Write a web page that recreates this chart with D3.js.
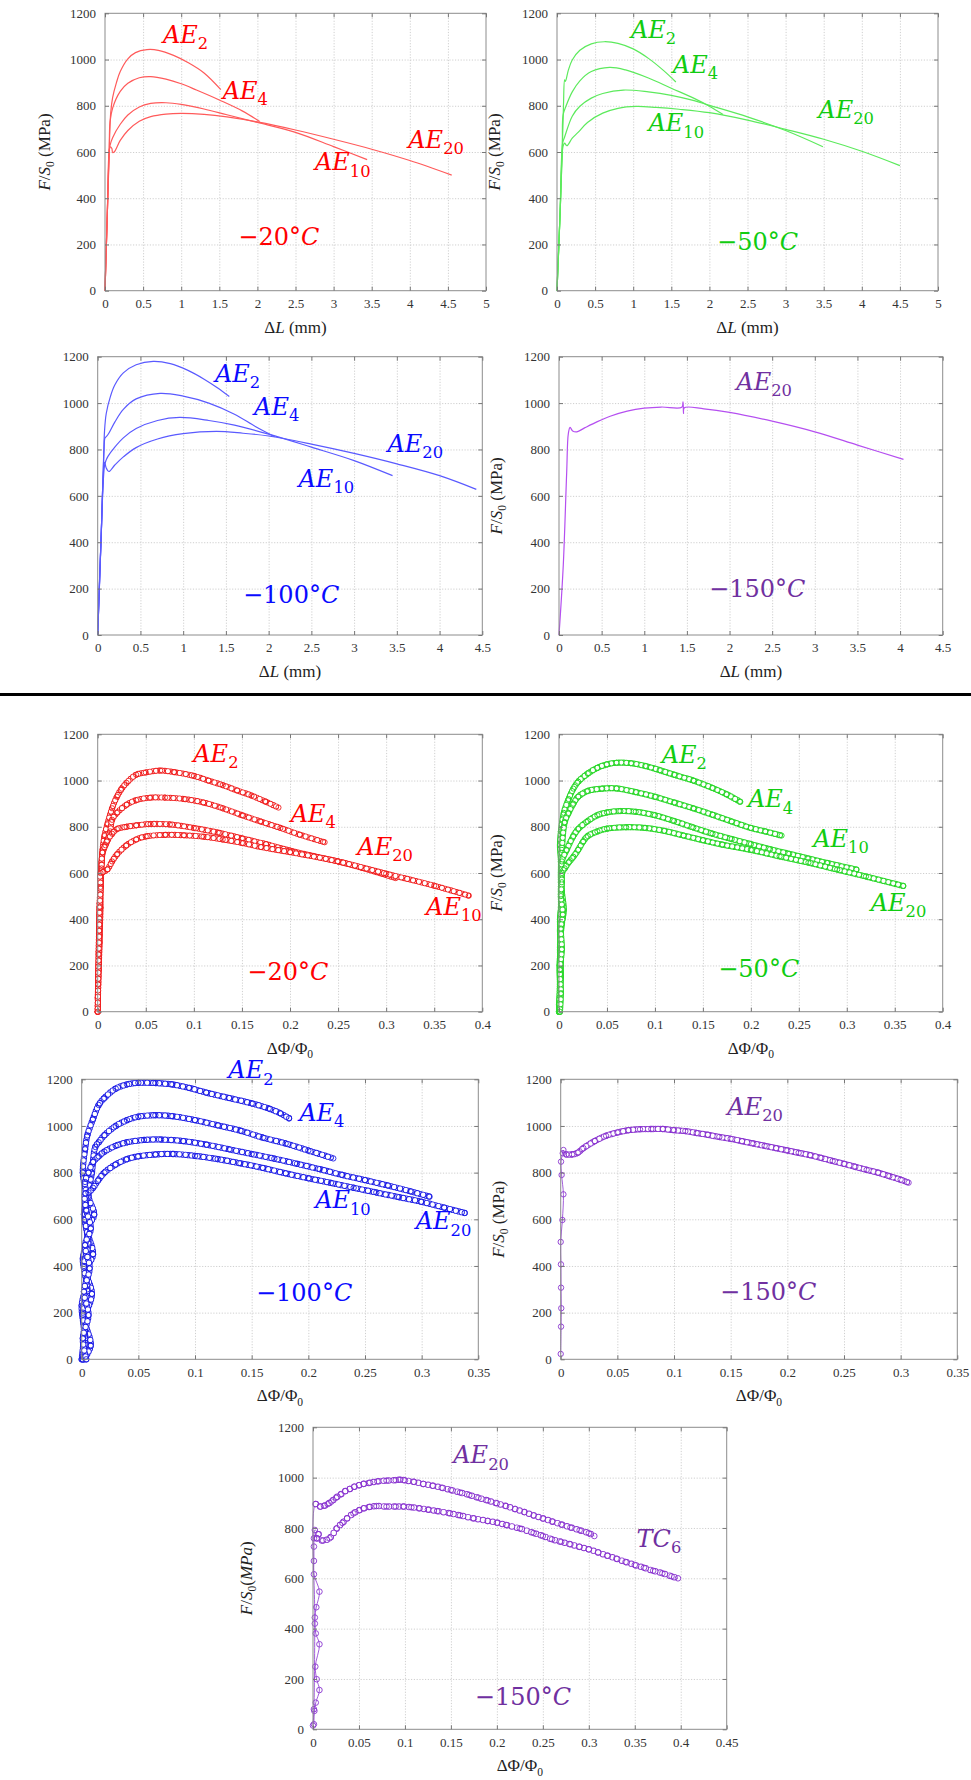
<!DOCTYPE html>
<html><head><meta charset="utf-8">
<script src="https://cdn.jsdelivr.net/npm/d3@7"></script>
<style>body{margin:0;background:#fff}svg{display:block}</style>
</head><body>
<svg id="c" width="971" height="1780"></svg>
<script>
// ---------- tick values ----------
const yTicks = [0,200,400,600,800,1000,1200];
const xTicksL5 = [0,0.5,1,1.5,2,2.5,3,3.5,4,4.5,5];
const xTicksL45 = [0,0.5,1,1.5,2,2.5,3,3.5,4,4.5];
const xTicksP40 = [0,0.05,0.1,0.15,0.2,0.25,0.3,0.35,0.4];
const xTicksP35 = [0,0.05,0.1,0.15,0.2,0.25,0.3,0.35];
const xTicksP45 = [0,0.05,0.1,0.15,0.2,0.25,0.3,0.35,0.4,0.45];

// ---------- -20°C, ΔL ----------
const m20L_AE2 = [[0,0],[0.03,330],[0.05,560],[0.062,680],[0.075,770],[0.1,835],[0.15,900],[0.2,948],[0.3,1003],[0.4,1030],[0.55,1043],[0.7,1040],[0.9,1018],[1.1,985],[1.3,942],[1.52,870]];
const m20L_AE4 = [[0,0],[0.03,330],[0.055,590],[0.066,730],[0.1,790],[0.2,862],[0.3,897],[0.45,921],[0.6,926],[0.8,915],[1.0,895],[1.2,868],[1.5,825],[1.8,778],[2.03,732]];
const m20L_AE10 = [[0,0],[0.03,330],[0.057,610],[0.065,628],[0.1,662],[0.2,720],[0.3,760],[0.45,795],[0.6,810],[0.8,813],[1.0,806],[1.3,786],[1.6,761],[2.0,728],[2.5,685],[3.0,623],[3.44,567]];
const m20L_AE20 = [[0,0],[0.03,330],[0.057,610],[0.07,622],[0.09,615],[0.1,598],[0.12,600],[0.2,650],[0.3,693],[0.45,733],[0.6,753],[0.8,764],[1.0,767],[1.3,763],[1.6,752],[2.0,730],[2.5,695],[3.0,655],[3.5,612],[4.0,563],[4.55,500]];

// ---------- -50°C, ΔL ----------
const m50L_AE2 = [[0,0],[0.04,330],[0.07,620],[0.085,800],[0.1,912],[0.11,905],[0.15,955],[0.2,998],[0.3,1040],[0.45,1068],[0.62,1077],[0.8,1070],[1.0,1046],[1.2,1005],[1.4,952],[1.56,903]];
const m50L_AE4 = [[0,0],[0.04,330],[0.07,620],[0.08,760],[0.12,800],[0.2,860],[0.3,908],[0.45,948],[0.69,966],[0.9,955],[1.2,920],[1.5,876],[1.8,832],[2.0,798],[2.18,762]];
const m50L_AE10 = [[0,0],[0.04,330],[0.075,640],[0.1,665],[0.2,755],[0.3,798],[0.45,833],[0.6,853],[0.87,868],[1.2,860],[1.5,845],[1.8,822],[2.0,802],[2.5,752],[3.0,693],[3.49,623]];
const m50L_AE20 = [[0,0],[0.04,330],[0.08,625],[0.1,638],[0.13,627],[0.2,660],[0.28,686],[0.4,728],[0.6,768],[0.8,789],[1.04,797],[1.3,793],[1.6,785],[2.0,770],[2.5,738],[3.0,698],[3.5,655],[4.0,603],[4.5,541]];

// ---------- -100°C, ΔL ----------
const m100L_AE2 = [[0,0],[0.04,420],[0.066,726],[0.08,880],[0.1,955],[0.15,1030],[0.2,1078],[0.3,1130],[0.45,1165],[0.65,1180],[0.85,1170],[1.05,1142],[1.25,1102],[1.4,1066],[1.54,1028]];
const m100L_AE4 = [[0,0],[0.04,420],[0.075,800],[0.085,850],[0.1,855],[0.13,870],[0.2,918],[0.3,973],[0.45,1018],[0.73,1042],[1.0,1030],[1.3,1000],[1.6,952],[1.85,898],[2.07,855]];
const m100L_AE10 = [[0,0],[0.04,420],[0.08,730],[0.1,755],[0.12,770],[0.2,810],[0.3,850],[0.45,890],[0.7,925],[0.96,938],[1.3,925],[1.6,905],[2.0,866],[2.5,810],[3.0,752],[3.45,687]];
const m100L_AE20 = [[0,0],[0.04,420],[0.08,745],[0.1,720],[0.13,705],[0.2,733],[0.3,768],[0.45,808],[0.7,845],[1.0,868],[1.39,878],[1.7,870],[2.0,858],[2.5,823],[3.0,783],[3.5,738],[4.0,687],[4.43,628]];

// ---------- -150°C, ΔL ----------
const m150L_AE20 = [[0,0],[0.05,300],[0.09,700],[0.11,870],[0.13,895],[0.16,880],[0.21,876],[0.3,893],[0.45,920],[0.6,943],[0.8,965],[1.0,978],[1.2,983],[1.44,982],[1.455,1005],[1.46,955],[1.47,980],[1.7,975],[2.0,960],[2.5,922],[3.0,876],[3.5,819],[4.04,757]];

// ---------- -20°C, ΔΦ/Φ0 ----------
const m20P_AE2 = [[0,0],[0.0005,150],[0.001,260],[0.0015,380],[0.002,470],[0.003,560],[0.004,640],[0.005,700],[0.007,760],[0.01,810],[0.015,880],[0.02,930],[0.025,965],[0.03,990],[0.04,1025],[0.05,1035],[0.065,1043],[0.08,1036],[0.1,1020],[0.115,1000],[0.13,980],[0.145,957],[0.16,935],[0.175,908],[0.188,883]];
const m20P_AE4 = [[0,60],[0.001,200],[0.002,330],[0.003,450],[0.003,560],[0.004,650],[0.006,700],[0.01,740],[0.013,780],[0.015,830],[0.02,860],[0.03,895],[0.04,915],[0.055,926],[0.07,926],[0.09,920],[0.11,905],[0.13,880],[0.15,850],[0.17,822],[0.19,795],[0.21,766],[0.236,733]];
const m20P_AE10 = [[0,0],[0.001,180],[0.002,300],[0.002,420],[0.003,540],[0.004,620],[0.005,690],[0.008,720],[0.01,740],[0.015,770],[0.02,790],[0.03,800],[0.04,806],[0.055,812],[0.075,810],[0.1,795],[0.125,775],[0.15,750],[0.175,725],[0.2,697],[0.225,673],[0.25,650],[0.275,622],[0.31,578]];
const m20P_AE20 = [[0,0],[0.0005,120],[0.001,250],[0.0015,350],[0.002,450],[0.003,540],[0.003,600],[0.006,605],[0.01,615],[0.015,650],[0.02,680],[0.03,720],[0.04,745],[0.05,758],[0.07,765],[0.09,763],[0.11,757],[0.13,745],[0.15,730],[0.17,712],[0.2,690],[0.25,650],[0.3,597],[0.35,545],[0.386,502]];

// ---------- -50°C, ΔΦ/Φ0 ----------
const m50P_AE2 = [[0,0],[0.001,100],[0.0005,200],[0.002,300],[0.001,400],[0.003,480],[0.002,560],[0.002,650],[0.001,720],[0.002,780],[0.005,860],[0.01,920],[0.015,965],[0.02,995],[0.03,1030],[0.04,1055],[0.05,1070],[0.06,1077],[0.075,1075],[0.09,1063],[0.105,1045],[0.12,1025],[0.14,1000],[0.16,968],[0.175,940],[0.189,908]];
const m50P_AE4 = [[0,30],[0.002,150],[0.001,280],[0.003,380],[0.005,440],[0.003,520],[0.002,600],[0.003,700],[0.006,820],[0.01,860],[0.015,900],[0.02,930],[0.03,955],[0.045,965],[0.06,966],[0.08,950],[0.1,930],[0.12,905],[0.14,880],[0.16,852],[0.18,823],[0.2,795],[0.215,780],[0.232,762]];
const m50P_AE10 = [[0,0],[0.001,120],[0.002,250],[0.001,350],[0.002,450],[0.002,540],[0.003,600],[0.003,650],[0.008,700],[0.015,760],[0.02,790],[0.03,825],[0.04,850],[0.05,862],[0.064,868],[0.08,865],[0.1,850],[0.12,825],[0.14,797],[0.16,770],[0.18,747],[0.2,725],[0.22,703],[0.24,683],[0.26,663],[0.28,643],[0.31,615]];
const m50P_AE20 = [[0.001,0],[0.002,80],[0.001,180],[0.003,270],[0.002,360],[0.004,420],[0.002,500],[0.003,560],[0.003,600],[0.006,620],[0.01,645],[0.015,670],[0.02,700],[0.025,735],[0.03,760],[0.04,780],[0.05,792],[0.07,798],[0.09,795],[0.11,782],[0.13,762],[0.15,742],[0.17,723],[0.2,700],[0.23,672],[0.26,645],[0.29,615],[0.32,585],[0.359,544]];

// ---------- -100°C, ΔΦ/Φ0 ----------
const m100P_AE2 = [[0,0],[0.002,120],[0,230],[0.004,330],[0.001,430],[0.005,520],[0.002,620],[0.004,700],[0.001,800],[0.003,900],[0.005,960],[0.01,1030],[0.015,1090],[0.02,1120],[0.03,1160],[0.04,1178],[0.05,1185],[0.065,1184],[0.08,1178],[0.095,1163],[0.11,1143],[0.13,1120],[0.15,1097],[0.165,1075],[0.175,1055],[0.183,1033]];
const m100P_AE4 = [[0.002,0],[0.008,60],[0.003,170],[0.009,280],[0.004,380],[0.01,450],[0.005,560],[0.011,620],[0.006,700],[0.009,800],[0.012,910],[0.015,930],[0.02,960],[0.03,1000],[0.04,1025],[0.05,1040],[0.065,1046],[0.08,1042],[0.1,1025],[0.12,1003],[0.14,980],[0.16,950],[0.18,925],[0.2,895],[0.222,861]];
const m100P_AE10 = [[0.001,0],[0.003,100],[0.001,200],[0.005,300],[0.002,400],[0.006,500],[0.003,600],[0.004,700],[0.003,760],[0.006,800],[0.01,845],[0.015,870],[0.02,890],[0.03,915],[0.04,930],[0.055,940],[0.07,942],[0.09,935],[0.11,920],[0.13,900],[0.15,880],[0.17,860],[0.19,838],[0.21,815],[0.23,790],[0.25,768],[0.27,745],[0.29,720],[0.307,697]];
const m100P_AE20 = [[0.004,0],[0.001,90],[0.006,190],[0.002,290],[0.007,390],[0.003,490],[0.008,560],[0.004,640],[0.003,710],[0.006,715],[0.01,735],[0.015,770],[0.02,800],[0.03,835],[0.04,858],[0.05,870],[0.065,878],[0.08,880],[0.1,872],[0.12,858],[0.14,840],[0.16,820],[0.18,797],[0.2,776],[0.22,756],[0.24,735],[0.26,715],[0.28,695],[0.3,675],[0.32,650],[0.338,627]];

// ---------- -150°C, ΔΦ/Φ0 ----------
const m150P_AE20 = [[0,23],[0.0003,140],[0.0005,219],[0.0003,307],[0.0002,407],[0,503],[0.0015,597],[0.0024,707],[0.0008,790],[0.0003,847],[0.0024,897],[0.0018,883],[0.005,878],[0.01,878],[0.015,885],[0.02,905],[0.03,935],[0.04,958],[0.05,972],[0.06,982],[0.07,986],[0.08,987],[0.09,987],[0.1,982],[0.11,978],[0.12,970],[0.13,962],[0.14,953],[0.15,945],[0.16,935],[0.17,925],[0.18,915],[0.19,905],[0.2,895],[0.21,885],[0.22,875],[0.23,863],[0.24,850],[0.25,838],[0.26,825],[0.27,812],[0.28,800],[0.29,785],[0.3,770],[0.307,757]];

// ---------- -150°C, ΔΦ/Φ0 (AE20 vs TC6) ----------
const c150_AE20 = [[0,15],[0.001,80],[0.002,420],[0.003,895],[0.008,885],[0.012,888],[0.016,895],[0.02,905],[0.025,920],[0.03,933],[0.035,946],[0.04,955],[0.045,964],[0.05,970],[0.055,975],[0.062,980],[0.07,985],[0.08,988],[0.09,990],[0.095,992],[0.1,989],[0.11,983],[0.12,975],[0.13,968],[0.14,960],[0.15,951],[0.16,941],[0.17,931],[0.18,920],[0.19,909],[0.2,898],[0.21,887],[0.22,875],[0.23,863],[0.24,850],[0.25,838],[0.26,826],[0.27,814],[0.28,802],[0.29,791],[0.3,779],[0.306,768]];
const c150_TC6 = [[0.001,20],[0.0015,73],[0.003,106],[0.007,156],[0.004,199],[0.0025,249],[0.007,338],[0.003,381],[0.002,444],[0.0036,485],[0.007,547],[0.001,616],[0.001,669],[0.001,726],[0.001,759],[0.002,792],[0.006,775],[0.004,760],[0.011,750],[0.018,759],[0.026,799],[0.032,820],[0.037,838],[0.044,858],[0.05,870],[0.055,878],[0.062,884],[0.069,887],[0.08,885],[0.09,885],[0.098,885],[0.107,882],[0.116,878],[0.125,873],[0.135,867],[0.149,858],[0.16,850],[0.175,838],[0.19,828],[0.2,821],[0.21,812],[0.225,798],[0.24,780],[0.25,768],[0.26,755],[0.27,745],[0.28,735],[0.29,725],[0.3,715],[0.31,703],[0.32,690],[0.33,678],[0.34,665],[0.35,653],[0.36,642],[0.37,630],[0.38,620],[0.39,608],[0.397,600]];

// ---------- styles / layout ----------
const RED = {line:"#ff5a5a", text:"#ff0000", dot:"#f02020"};
const GREEN = {line:"#5cea5c", text:"#11cc11", dot:"#2ed82e"};
const BLUE = {line:"#5a5aff", text:"#0a0aff", dot:"#1f1fe6"};
const PURPLE = {line:"#b54ff0", text:"#7030a0", dot:"#8a35d0"};

const AE = n => [["AE","i"],[n,"s"]];
const TEMP = t => [[t,""],["C","i"]];
const XL_DL = [["Δ",""],["L","i"],[" (mm)",""]];
const XL_DP = [["ΔΦ/Φ",""],["0","s"]];
const YL = [["F","i"],["/",""],["S","i"],["0","s"],[" (MPa)",""]];
const YL9 = [["F","i"],["/",""],["S","i"],["0","s"],["(",""],["MPa","i"],[")",""]];

const panels = [
 {box:[105,486,13.3,290.7], xmax:5, xTicks:xTicksL5, xl:XL_DL, ylx:45, col:RED, kind:"line",
  series:[m20L_AE2,m20L_AE4,m20L_AE10,m20L_AE20],
  labels:[[AE("2"),0.76,1071],[AE("4"),1.545,829],[AE("10"),2.756,520],[AE("20"),3.98,617],[TEMP("−20°"),1.75,196]]},
 {box:[557,938,13.3,290.7], xmax:5, xTicks:xTicksL5, xl:XL_DL, ylx:495, col:GREEN, kind:"line",
  series:[m50L_AE2,m50L_AE4,m50L_AE10,m50L_AE20],
  labels:[[AE("2"),0.97,1093],[AE("4"),1.52,941],[AE("10"),1.2,689],[AE("20"),3.43,747],[TEMP("−50°"),2.1,177]]},
 {box:[97.7,482.3,356.7,635], xmax:4.5, xTicks:xTicksL45, xl:XL_DL, ylx:null, col:BLUE, kind:"line",
  series:[m100L_AE2,m100L_AE4,m100L_AE10,m100L_AE20],
  labels:[[AE("2"),1.372,1092],[AE("4"),1.83,949],[AE("10"),2.35,640],[AE("20"),3.39,790],[TEMP("−100°"),1.70,137]]},
 {box:[559,942.7,356.7,635], xmax:4.5, xTicks:xTicksL45, xl:XL_DL, ylx:497, col:PURPLE, kind:"line",
  series:[m150L_AE20],
  labels:[[AE("20"),2.08,1056],[TEMP("−150°"),1.76,165]]},
 {box:[97.7,482.3,734.3,1011.7], xmax:0.4, xTicks:xTicksP40, xl:XL_DP, ylx:null, col:RED, kind:"dots",
  dense:{r:2.6,sw:0.9,gap:6}, from:[0,0,0,0],
  series:[m20P_AE2,m20P_AE4,m20P_AE10,m20P_AE20],
  labels:[[AE("2"),0.0994,1081],[AE("4"),0.2007,822],[AE("20"),0.27,678],[AE("10"),0.3415,418],[TEMP("−20°"),0.1556,137]]},
 {box:[559,942.7,734.3,1011.7], xmax:0.4, xTicks:xTicksP40, xl:XL_DP, ylx:497, col:GREEN, kind:"dots",
  dense:{r:2.6,sw:1.0,gap:5}, from:[0,0,0,0],
  series:[m50P_AE2,m50P_AE4,m50P_AE10,m50P_AE20],
  labels:[[AE("2"),0.107,1075],[AE("4"),0.197,884],[AE("10"),0.265,714],[AE("20"),0.325,437],[TEMP("−50°"),0.166,151]]},
 {box:[81.7,478.3,1079.3,1359.3], xmax:0.35, xTicks:xTicksP35, xl:XL_DP, ylx:null, col:BLUE, kind:"dots",
  dense:{r:2.7,sw:0.9,gap:6}, from:[0,0,0,0],
  series:[m100P_AE2,m100P_AE4,m100P_AE10,m100P_AE20],
  labels:[[AE("2"),0.1294,1204],[AE("4"),0.192,1023],[AE("10"),0.206,647],[AE("20"),0.2948,557],[TEMP("−100°"),0.1538,251]]},
 {box:[560.7,957.3,1079.3,1359.3], xmax:0.35, xTicks:xTicksP35, xl:XL_DP, ylx:499, col:PURPLE, kind:"dots",
  dense:{r:2.7,sw:0.9,gap:5}, from:[12],
  series:[m150P_AE20],
  labels:[[AE("20"),0.147,1047],[TEMP("−150°"),0.1406,254]]},
 {box:[313,726.7,1427.3,1729.3], xmax:0.45, xTicks:xTicksP45, xl:XL_DP, ylx:247, yl:YL9, col:PURPLE, kind:"dots",
  dense:{r:2.8,sw:0.9,gap:10}, from:[3,16],
  series:[c150_AE20,c150_TC6],
  labels:[[AE("20"),0.1526,1057],[[["TC","i"],["6","s"]],0.352,726],[TEMP("−150°"),0.176,97]]}
];

// ---------- drawing ----------
const svg = d3.select("#c");
svg.append("rect").attr("width",971).attr("height",1780).attr("fill","#fff");

function rich(g, parts, size, color, family, anchor) {
  const t = g.append("text").attr("font-family",family).attr("font-size",size)
    .attr("fill",color).attr("text-anchor",anchor||"start");
  let sub = false;
  parts.forEach(([s, st]) => {
    const ts = t.append("tspan").text(s);
    if (st.includes("i")) ts.attr("font-style","italic");
    if (st.includes("s")) { ts.attr("font-size", size*0.68).attr("dy", size*0.26); sub = true; }
    else if (sub) { ts.attr("dy", -size*0.26); sub = false; }
  });
  return t;
}

const serif = "'Liberation Serif','DejaVu Serif',serif";
const mathFont = "'DejaVu Serif',serif";

panels.forEach(p => {
  const [L,R,T,B] = p.box;
  const x = d3.scaleLinear().domain([0,p.xmax]).range([L,R]);
  const y = d3.scaleLinear().domain([0,1200]).range([B,T]);
  const g = svg.append("g");

  // grid
  g.append("g").attr("transform",`translate(0,${B})`)
    .call(d3.axisBottom(x).tickValues(p.xTicks.slice(1,-1)).tickSize(-(B-T)).tickFormat(""))
    .call(a=>a.select(".domain").remove())
    .call(a=>a.selectAll("line").attr("stroke","#cfcfcf").attr("stroke-dasharray","1.2,1.6"));
  g.append("g").attr("transform",`translate(${L},0)`)
    .call(d3.axisLeft(y).tickValues(yTicks.slice(1,-1)).tickSize(-(R-L)).tickFormat(""))
    .call(a=>a.select(".domain").remove())
    .call(a=>a.selectAll("line").attr("stroke","#cfcfcf").attr("stroke-dasharray","1.2,1.6"));

  // data
  const line = d3.line().x(d=>x(d[0])).y(d=>y(d[1])).curve(d3.curveCatmullRom.alpha(0.5));
  p.series.forEach((s, i) => {
    if (p.kind === "line") {
      g.append("path").attr("d", line(s)).attr("fill","none")
        .attr("stroke", p.col.line).attr("stroke-width",1.2);
    } else {
      const o = p.dense, c = p.col.dot;
      g.append("path").attr("d", line(s)).attr("fill","none").attr("stroke",c).attr("stroke-width",0.8);
      const dd = line(s.slice(p.from[i]||0));
      [0, o.gap/2].forEach(off => {
        g.append("path").attr("d",dd).attr("fill","none").attr("stroke",c)
          .attr("stroke-width",2*o.r+o.sw).attr("stroke-linecap","round")
          .attr("stroke-dasharray",`0 ${o.gap}`).attr("stroke-dashoffset",-off);
        g.append("path").attr("d",dd).attr("fill","none").attr("stroke","#fff")
          .attr("stroke-width",2*o.r-o.sw).attr("stroke-linecap","round")
          .attr("stroke-dasharray",`0 ${o.gap}`).attr("stroke-dashoffset",-off);
      });
      g.append("g").selectAll("circle").data(s).join("circle")
        .attr("cx",d=>x(d[0])).attr("cy",d=>y(d[1])).attr("r",o.r)
        .attr("fill","none").attr("stroke",c).attr("stroke-width",o.sw);
    }
  });

  // box
  g.append("rect").attr("x",L).attr("y",T).attr("width",R-L).attr("height",B-T)
    .attr("fill","none").attr("stroke","#8c8c8c").attr("stroke-width",1);

  // axes (ticks inward)
  const styleAxis = a => {
    a.select(".domain").remove();
    a.selectAll("line").attr("stroke","#777");
    a.selectAll("text").attr("font-family",serif).attr("font-size",13).attr("fill","#333");
  };
  g.append("g").attr("transform",`translate(0,${B})`)
    .call(d3.axisBottom(x).tickValues(p.xTicks).tickSizeInner(-4).tickSizeOuter(0).tickPadding(8).tickFormat(d=>String(d)))
    .call(styleAxis);
  g.append("g").attr("transform",`translate(0,${T})`)
    .call(d3.axisTop(x).tickValues(p.xTicks).tickSizeInner(-4).tickSizeOuter(0).tickFormat(""))
    .call(styleAxis);
  g.append("g").attr("transform",`translate(${L},0)`)
    .call(d3.axisLeft(y).tickValues(yTicks).tickSizeInner(-4).tickSizeOuter(0).tickPadding(9).tickFormat(d=>String(d)))
    .call(styleAxis);
  g.append("g").attr("transform",`translate(${R},0)`)
    .call(d3.axisRight(y).tickValues(yTicks).tickSizeInner(-4).tickSizeOuter(0).tickFormat(""))
    .call(styleAxis);

  // axis labels
  rich(g, p.xl, 17, "#222", serif, "middle")
    .attr("x",(L+R)/2).attr("y",B+42);
  if (p.ylx !== null) {
    rich(g, p.yl || YL, 17, "#222", serif, "middle")
      .attr("transform",`translate(${p.ylx+5},${(T+B)/2}) rotate(-90)`);
  }

  // annotations
  p.labels.forEach(([parts, lx, ly]) => {
    rich(g, parts, 24, p.col.text, mathFont, "start").attr("x", x(lx)).attr("y", y(ly));
  });
});

// separator between the two figure blocks
svg.append("rect").attr("x",0).attr("y",693).attr("width",971).attr("height",3).attr("fill","#000");
</script>
</body></html>
